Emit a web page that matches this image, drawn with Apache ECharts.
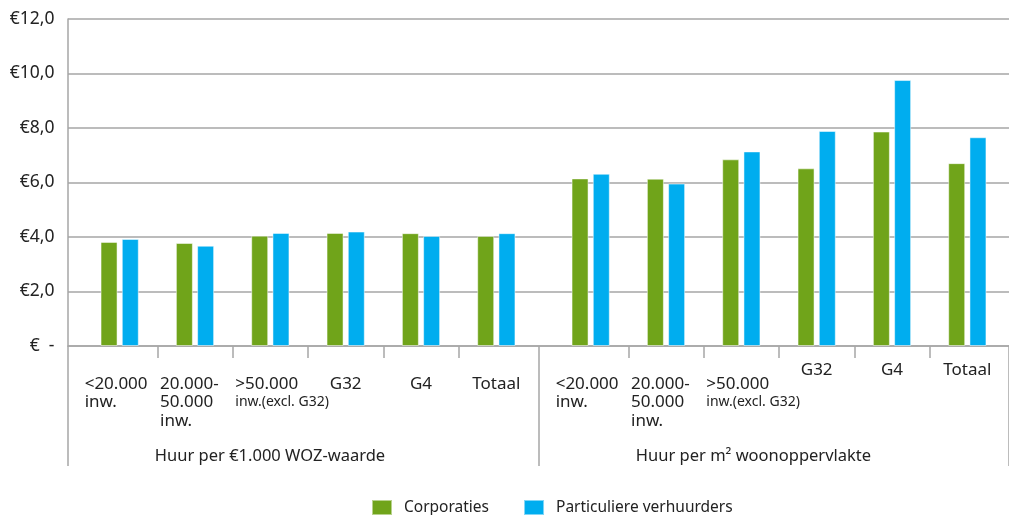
<!DOCTYPE html>
<html>
<head>
<meta charset="utf-8">
<script src="https://cdn.jsdelivr.net/npm/echarts@6/dist/echarts.min.js"></script>
<style>
  html, body { margin: 0; padding: 0; background: #fff; }
  #Charts { width: 1009px; height: 515px; }
</style>
</head>
<body>
<div id="Charts"></div>
<script>
// categories per group (line breaks as in the original labels)
const categories = ['<20.000\ninw.', '20.000-\n50.000\ninw.', '>50.000\ninw.(excl. G32)', 'G32', 'G4', 'Totaal']
const groupTitles = ['Huur per €1.000 WOZ-waarde', 'Huur per m² woonoppervlakte']
const seriesNames = ['Corporaties', 'Particuliere verhuurders']

// Huur per €1.000 WOZ-waarde
const wozCorporaties = [3.82, 3.78, 4.05, 4.15, 4.14, 4.04]
const wozParticulier = [3.93, 3.68, 4.15, 4.20, 4.04, 4.14]
// Huur per m2 woonoppervlakte
const m2Corporaties = [6.15, 6.14, 6.85, 6.52, 7.87, 6.71]
const m2Particulier = [6.32, 5.96, 7.14, 7.89, 9.76, 7.66]

const yMin = 0
const yMax = 12
const yStep = 2

const green = '#70a41a'
const blue = '#00adef'
const lineGray = '#a6a6a6'
const textColor = '#222'
const font = 'Noto Sans'

// boundary slots for the short tick marks between categories
const tickSlots = categories.map((c, i) => i).concat([categories.length])

let chart = echarts.init(document.getElementById('Charts'))

function labelFormatter(raised) {
  return function (value) {
    let lines = value.split('\n')
    let centered = lines.length === 1
    let out = lines.map(function (line, i) {
      if (centered) return '{c|' + line + '}'
      if (i > 0 && line.indexOf('(') >= 0) return '{s|' + line + '}'
      return '{l|' + line + '}'
    })
    if (!(raised && centered)) out.unshift('{gap| }')
    return out.join('\n')
  }
}

const labelRich = {
  gap: { fontSize: 10, lineHeight: 14, width: 70 },
  l: { fontSize: 17, lineHeight: 18.5, width: 70, align: 'left', color: textColor, fontFamily: font },
  s: { fontSize: 14, lineHeight: 18, width: 70, align: 'left', color: textColor, fontFamily: font },
  c: { fontSize: 17, lineHeight: 18.5, width: 70, align: 'center', color: textColor, fontFamily: font }
}

function barAxis(gridIndex, title, raised, shift) {
  return {
    gridIndex: gridIndex,
    type: 'category',
    position: 'bottom',
    data: categories,
    axisLine: { show: false },
    axisTick: { show: false },
    splitLine: { show: false },
    axisLabel: {
      interval: 0,
      margin: 14.75,
      formatter: labelFormatter(raised),
      rich: labelRich
    },
    name: title,
    nameLocation: 'middle',
    nameGap: 102,
    nameMoveOverlap: false,
    nameTextStyle: { fontSize: 16.5, color: textColor, fontFamily: font, padding: [0, shift, 0, 0] }
  }
}

function tickAxis(gridIndex) {
  return {
    gridIndex: gridIndex,
    type: 'category',
    position: 'bottom',
    boundaryGap: false,
    data: tickSlots,
    axisLine: { show: false },
    axisLabel: { show: false },
    splitLine: { show: false },
    axisTick: {
      show: true,
      length: 12,
      interval: function (index) { return index > 0 && index < categories.length },
      lineStyle: { color: lineGray, width: 1.5 }
    }
  }
}

function hiddenY(gridIndex) {
  return { gridIndex: gridIndex, type: 'value', min: yMin, max: yMax, show: false }
}

function barSeries(name, xIdx, yIdx, data, color) {
  return {
    name: name,
    type: 'bar',
    xAxisIndex: xIdx,
    yAxisIndex: yIdx,
    data: data,
    barWidth: 17,
    barGap: '25%',
    itemStyle: { color: color, borderColor: 'rgba(255,255,255,0.5)', borderWidth: 1 }
  }
}

let option = {
  animation: false,
  backgroundColor: '#fff',
  textStyle: { fontFamily: font },
  grid: [
    { left: 68, right: 0, top: 19, bottom: 169, outerBoundsMode: 'none' },
    { left: 82, right: 475, top: 19, bottom: 169, outerBoundsMode: 'none' },
    { left: 553, right: 4, top: 19, bottom: 169, outerBoundsMode: 'none' }
  ],
  legend: {
    data: seriesNames,
    left: 371,
    top: 499,
    padding: 0,
    icon: 'rect',
    itemWidth: 20,
    itemHeight: 15,
    itemGap: 34,
    textStyle: { fontSize: 15.5, color: textColor, fontFamily: font, padding: [0, 0, 0, 7] }
  },
  xAxis: [
    {
      // group sections: baseline and long dividers
      gridIndex: 0,
      type: 'category',
      position: 'bottom',
      data: groupTitles,
      axisLine: { show: true, lineStyle: { color: lineGray, width: 1.5 } },
      axisTick: { show: true, length: 120, lineStyle: { color: lineGray, width: 1.5 } },
      axisLabel: { show: false },
      splitLine: { show: false }
    },
    barAxis(1, groupTitles[0], false, 76),
    tickAxis(1),
    barAxis(2, groupTitles[1], true, 51),
    tickAxis(2)
  ],
  yAxis: [
    {
      gridIndex: 0,
      type: 'value',
      min: yMin,
      max: yMax,
      interval: yStep,
      axisLine: { show: true, lineStyle: { color: lineGray, width: 1.5 } },
      axisTick: { show: false },
      splitLine: { show: true, lineStyle: { color: lineGray, width: 1.5 } },
      axisLabel: {
        margin: 13.5,
        fontSize: 17.5,
        color: textColor,
        fontFamily: font,
        formatter: function (v) {
          return v === 0 ? '€  -' : '€' + v.toFixed(1).replace('.', ',')
        }
      }
    },
    hiddenY(1),
    hiddenY(2)
  ],
  series: [
    barSeries(seriesNames[0], 1, 1, wozCorporaties, green),
    barSeries(seriesNames[1], 1, 1, wozParticulier, blue),
    barSeries(seriesNames[0], 3, 2, m2Corporaties, green),
    barSeries(seriesNames[1], 3, 2, m2Particulier, blue)
  ]
}

chart.setOption(option)
</script>
</body>
</html>
